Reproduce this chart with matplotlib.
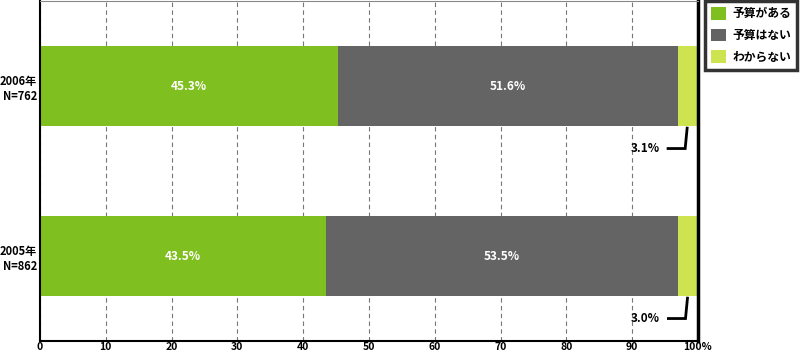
import matplotlib
matplotlib.use("Agg")
import matplotlib.pyplot as plt
from matplotlib.patches import Patch

plt.rcParams['font.family'] = ['Noto Sans CJK JP', 'DejaVu Sans']

categories = ["2005年\nN=862", "2006年\nN=762"]
series_names = ["予算がある", "予算はない", "わからない"]
has_budget = [43.5, 45.3]
no_budget = [53.5, 51.6]
unknown = [3.0, 3.1]
colors = ["#80BF20", "#646464", "#CDE450"]
xticks = [0, 10, 20, 30, 40, 50, 60, 70, 80, 90, 100]
xticklabels = ["0", "10", "20", "30", "40", "50", "60", "70", "80", "90", "100%"]

fig = plt.figure(figsize=(8, 3.56), dpi=100)
ax = fig.add_axes([0.05, 0.042, 0.8225, 0.955])

ypos = list(range(len(categories)))
h = 0.475
left = [0] * len(categories)
for vals, col in zip([has_budget, no_budget, unknown], colors):
    ax.barh(ypos, vals, left=left, height=h, color=col, zorder=2)
    left = [l + v for l, v in zip(left, vals)]

for y, a, b in zip(ypos, has_budget, no_budget):
    ax.text(a / 2, y, f"{a}%", color="white", ha="center", va="center",
            fontsize=8.5, fontweight="bold", zorder=3)
    ax.text(a + b / 2, y, f"{b}%", color="white", ha="center", va="center",
            fontsize=8.5, fontweight="bold", zorder=3)

for y, u, a, b in zip(ypos, unknown, has_budget, no_budget):
    xb = a + b + u / 2
    ax.plot([xb - 0.1, xb - 0.4, xb - 3.0], [y - h / 2 - 0.01, y - h / 2 - 0.13, y - h / 2 - 0.13],
            color="black", lw=2, zorder=3, clip_on=False, solid_joinstyle="miter")
    ax.text(xb - 4.3, y - h / 2 - 0.13, f"{u}%", ha="right", va="center",
            fontsize=8.5, fontweight="bold", zorder=3)

ax.set_xlim(0, 100)
ax.set_ylim(-0.5, 1.5)
ax.set_xticks(xticks)
ax.set_xticklabels(xticklabels, fontsize=7.5, fontweight="bold")
ax.set_yticks(ypos)
ax.set_yticklabels(categories, fontsize=8, fontweight="bold", linespacing=1.25)
ax.tick_params(axis='x', length=0, pad=1)
ax.tick_params(axis='y', length=0, pad=2)
ax.xaxis.grid(True, linestyle=(0, (4, 3)), color="#777777", lw=0.8, zorder=0)
ax.set_axisbelow(True)

ax.spines['left'].set_linewidth(1.5)
ax.spines['bottom'].set_linewidth(1.5)
ax.spines['right'].set_linewidth(2.5)
ax.spines['top'].set_linewidth(0.8)
ax.spines['top'].set_color("#888888")

handles = [Patch(facecolor=c, edgecolor='none') for c in colors]
leg = fig.legend(handles, series_names, loc="upper left",
                 bbox_to_anchor=(0.881, 0.997), frameon=True, fancybox=False,
                 fontsize=8.5, handlelength=1.3, handleheight=1.3,
                 borderpad=0.5, labelspacing=0.7, handletextpad=0.55,
                 borderaxespad=0)
leg.get_frame().set_edgecolor("black")
leg.get_frame().set_linewidth(2.5)
for t in leg.get_texts():
    t.set_fontweight("bold")

fig.savefig("out.png", dpi=100)
